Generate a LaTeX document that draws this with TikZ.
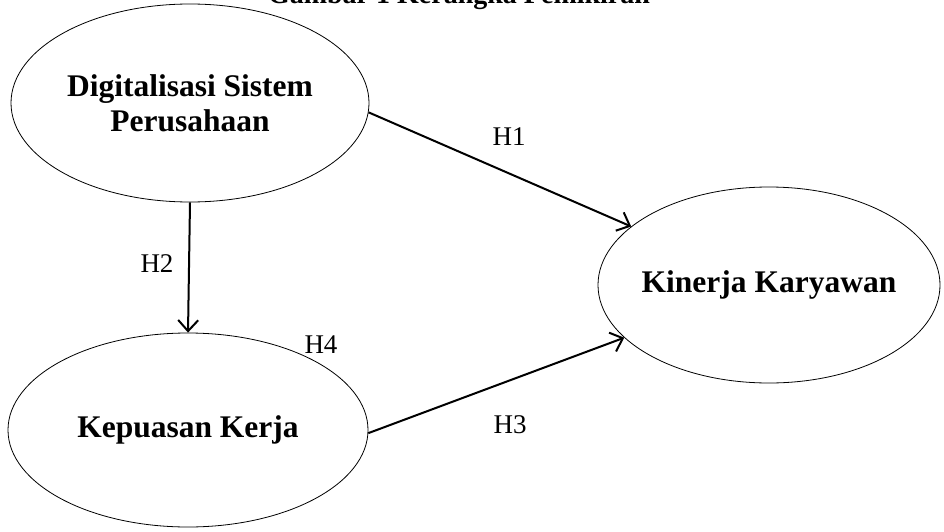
\documentclass[tikz,border=0pt]{standalone}
\usepackage{fontspec}
\setmainfont{Liberation Serif}
\usetikzlibrary{shapes.geometric,arrows.meta}
\begin{document}
\begin{tikzpicture}[x=1pt,y=-1pt,
  oval/.style={draw=black,line width=0.8pt,ellipse,inner sep=0pt,align=center,
    font=\fontsize{31.5}{35}\selectfont\bfseries},
  link/.style={draw=black,line width=2pt,-{Straight Barb[length=11pt,width=20pt,line width=2pt]}},
  hlabel/.style={font=\fontsize{27}{30}\selectfont,inner sep=0pt,anchor=base}]
\useasboundingbox (0,0) rectangle (944,532);
\clip (0,0) rectangle (944,532);
\node[font=\fontsize{28}{32}\selectfont\bfseries,anchor=base] (title) at (459,4) {Gambar 1 Kerangka Pemikiran};
\node[oval,minimum width=358pt,minimum height=198pt] (e1) at (190,103) {Digitalisasi Sistem\\Perusahaan};
\node[oval,minimum width=360pt,minimum height=194pt] (e2) at (188,430) {Kepuasan Kerja};
\node[oval,minimum width=342pt,minimum height=196pt,inner xsep=-30pt] (e3) at (769,285) {Kinerja Karyawan};
\draw[link] (e1.-3) -- (e3.157.7);
\draw[link] (e1.south) -- (e2.north);
\draw[link] (e2.-1.6) -- (e3.-160);
\node[hlabel] (h1) at (509,145) {H1};
\node[hlabel] (h2) at (157,272) {H2};
\node[hlabel] (h4) at (321,353) {H4};
\node[hlabel] (h3) at (510,433) {H3};
\end{tikzpicture}
\end{document}
